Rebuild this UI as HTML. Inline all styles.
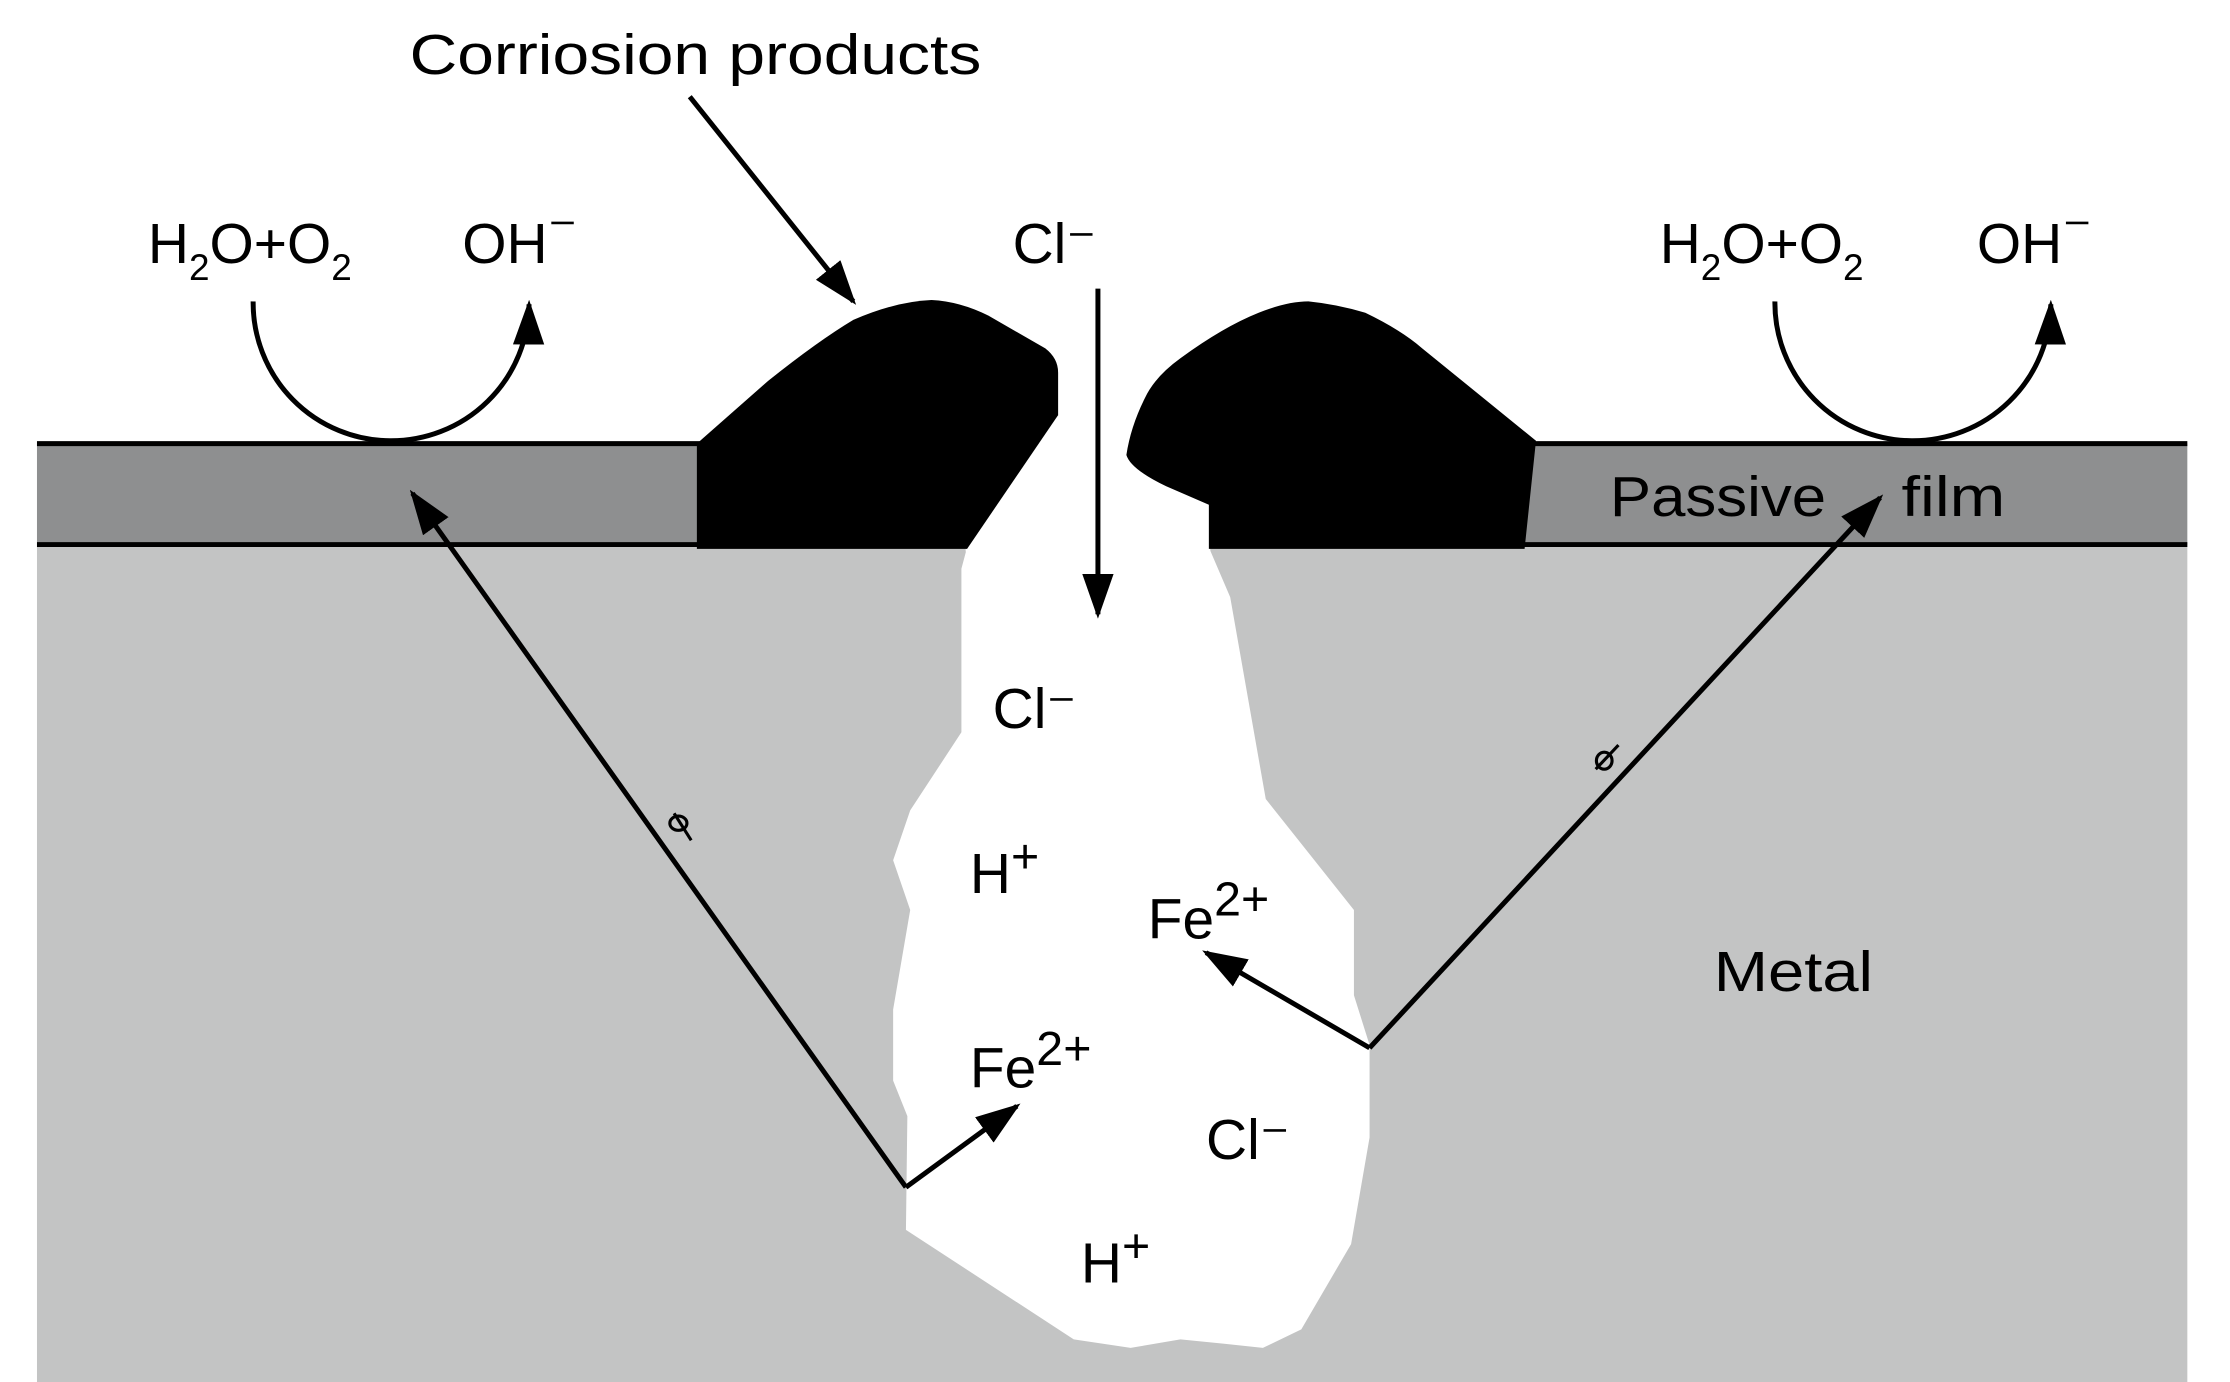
<!DOCTYPE html>
<html><head><meta charset="utf-8"><style>html,body{margin:0;padding:0;background:#fff}svg{display:block}text{font-family:"Liberation Sans",sans-serif;fill:#000}</style></head>
<body>
<svg width="2230" height="1382" viewBox="0 0 1568 972" preserveAspectRatio="none" xmlns="http://www.w3.org/2000/svg">
<defs><marker id="b" viewBox="0 0 10 10" refX="9" refY="5" markerWidth="9" markerHeight="9" orient="auto"><path d="M0,1.5L10,5L0,8.5z"/></marker></defs>
<rect x="26" y="383" width="1512" height="589" fill="#c3c4c4"/>
<rect x="26" y="312" width="1512" height="71" fill="#8e8f90"/>
<line x1="26" y1="312" x2="1538" y2="312" stroke="#000" stroke-width="3.5"/>
<line x1="26" y1="383" x2="1538" y2="383" stroke="#000" stroke-width="3.5"/>
<rect x="679" y="300" width="172" height="88" fill="#fff"/>
<path d="M680,385L676,400L676,515L640,570L628,605L640,640L628,710L628,760L638,785L637,865L755,942L795,948L830,942L860,945L888,948L915,935L950,875L963,800L963,735L952,700L952,640L890,562L865,420L850,385Z" fill="#fff"/>
<path d="M490,312L540,268Q575,240 600,225Q630,212 655,211Q675,212 695,222L735,245Q744,252 744,262L744,292L680,386L490,386Z" fill="#000"/>
<path d="M850,386L850,355L820,342Q795,330 792,320Q795,300 805,280Q812,265 830,252Q860,230 885,220Q905,212 920,212Q940,214 960,220Q985,232 1000,245L1080,310L1072,386Z" fill="#000"/>
<g stroke="#000" stroke-width="3.5" fill="none">
<line x1="637" y1="835" x2="290" y2="347" marker-end="url(#b)"/>
<line x1="637" y1="835" x2="715" y2="778" marker-end="url(#b)"/>
<line x1="963" y1="737" x2="1322" y2="350" marker-end="url(#b)"/>
<line x1="963" y1="737" x2="848" y2="670" marker-end="url(#b)"/>
<line x1="772" y1="203" x2="772" y2="432" marker-end="url(#b)"/>
<line x1="485" y1="68" x2="600" y2="212" marker-end="url(#b)"/>
<path d="M178,212A95,95 0 0 0 372,214" marker-end="url(#b)"/>
<path d="M1248,212A95,95 0 0 0 1442,214" marker-end="url(#b)"/>
</g>
<g stroke="#000" stroke-width="2.2" fill="none">
<ellipse cx="477" cy="579" rx="6" ry="5"/><line x1="474" y1="572" x2="486" y2="591"/>
<ellipse cx="1128" cy="535" rx="5.5" ry="6"/><line x1="1122" y1="541" x2="1138" y2="524"/>
</g>
<g font-size="40">
<text x="288" y="52" textLength="402" lengthAdjust="spacingAndGlyphs">Corriosion products</text>
<text x="104" y="185">H<tspan font-size="26" dy="12">2</tspan><tspan dy="-12">O+O</tspan><tspan font-size="26" dy="12">2</tspan></text>
<text x="325" y="185">OH<tspan dy="-8">⁻</tspan></text>
<text x="712" y="185">Cl⁻</text>
<text x="1167" y="185">H<tspan font-size="26" dy="12">2</tspan><tspan dy="-12">O+O</tspan><tspan font-size="26" dy="12">2</tspan></text>
<text x="1390" y="185">OH<tspan dy="-8">⁻</tspan></text>
<text x="1132" y="363" textLength="152" lengthAdjust="spacingAndGlyphs">Passive</text>
<text x="1337" y="363" textLength="73" lengthAdjust="spacingAndGlyphs">film</text>
<text x="698" y="512">Cl⁻</text>
<text x="682" y="628">H<tspan dy="-14" font-size="34">+</tspan></text>
<text x="807" y="660">Fe<tspan dy="-16" font-size="34">2+</tspan></text>
<text x="1205" y="697" textLength="112" lengthAdjust="spacingAndGlyphs">Metal</text>
<text x="682" y="765">Fe<tspan dy="-16" font-size="34">2+</tspan></text>
<text x="848" y="815">Cl⁻</text>
<text x="760" y="902">H<tspan dy="-14" font-size="34">+</tspan></text>
</g>
</svg>
</body></html>
